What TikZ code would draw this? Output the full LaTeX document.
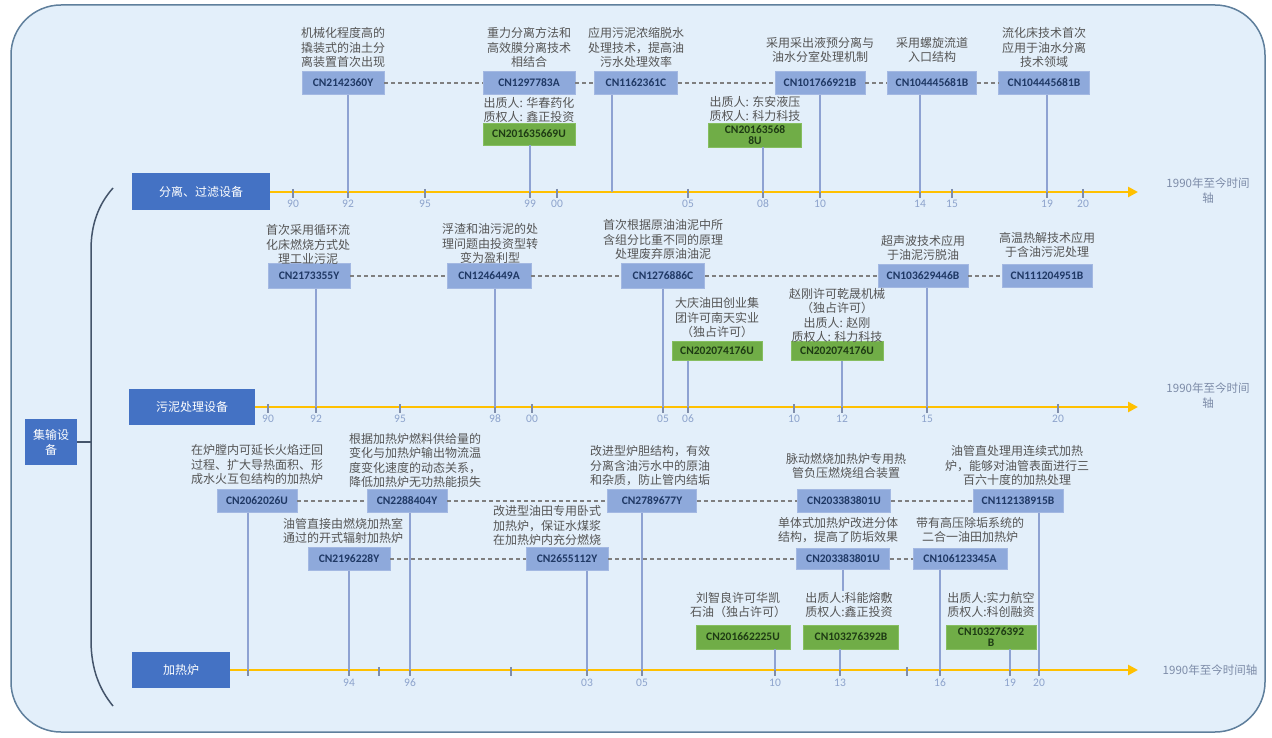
\documentclass[tikz,border=0pt]{standalone}
\usepackage{fontspec}
\setmainfont{Carlito}
\newfontfamily\cjk{Noto Sans CJK SC}
\usetikzlibrary{arrows.meta}
\definecolor{bgc}{HTML}{E3EFFA}
\definecolor{framec}{HTML}{5F7F9C}
\definecolor{catblue}{HTML}{4472C4}
\definecolor{patblue}{HTML}{8EA9DB}
\definecolor{patedge}{HTML}{A3B8E2}
\definecolor{patdark}{HTML}{1F3864}
\definecolor{grnfill}{HTML}{70AD47}
\definecolor{grnedge}{HTML}{86BE60}
\definecolor{grndark}{HTML}{1E3B14}
\definecolor{desctext}{HTML}{555555}
\definecolor{yrc}{HTML}{8DA3CC}
\definecolor{tickc}{HTML}{7F8DAA}
\definecolor{vlc}{HTML}{8EA2D2}
\definecolor{dashc}{HTML}{7F7F7F}
\definecolor{axc}{HTML}{FFC000}
\definecolor{axlabc}{HTML}{7D8CA8}
\definecolor{bracec}{HTML}{44546A}
\begin{document}
\begin{tikzpicture}[x=1pt,y=-1pt,
  cat/.style={fill=catblue, text=white, font=\fontsize{12}{15}\selectfont\cjk, inner sep=0pt, align=center},
  pat/.style={fill=patblue, draw=patedge, line width=0.6pt, text=patdark, font=\fontsize{11.5}{12}\selectfont\bfseries, inner sep=0pt, minimum height=23pt},
  grn/.style={fill=grnfill, draw=grnedge, line width=0.6pt, text=grndark, font=\fontsize{11.5}{11.5}\selectfont\bfseries, inner sep=0pt, minimum height=22pt, align=center},
  desc/.style={font=\fontsize{12}{14.5}\selectfont\cjk, text=desctext, align=center, anchor=south, inner sep=1pt},
  yr/.style={font=\fontsize{11.5}{12}\selectfont, text=yrc, inner sep=0pt},
  tk/.style={draw=tickc, line width=1.2pt},
  vline/.style={draw=vlc, line width=2pt},
  dline/.style={draw=dashc, line width=1.2pt, dash pattern=on 4pt off 3pt},
  axisline/.style={draw=axc, line width=2.5pt, -{Triangle[length=10pt,width=10pt]}},
  axlab/.style={font=\fontsize{11.5}{15}\selectfont\cjk, text=axlabc, align=center}
]
\useasboundingbox (0,0) rectangle (1272,738);
\fill[white] (0,0) rectangle (1272,738);
\draw[fill=bgc, draw=framec, line width=1.5pt, rounded corners=50pt] (11,5) rectangle (1265,732);

% ---------- root and brace ----------
\node[cat, minimum width=52pt, minimum height=46pt, text width=40pt] (root) at (51,442) {集输设\\备};
\coordinate (bt) at (113,188);
\coordinate (bb) at (113,706);
\coordinate (bm) at (91,442);
\draw[draw=bracec, line width=1.5pt] (bt) .. controls (98,205) and (91,225) .. (91,250) -- (91,640) .. controls (91,670) and (100,690) .. (bb);
\draw[draw=bracec, line width=1.5pt] (root.east) -- (bm);

% ---------- categories ----------
\node[cat, minimum width=138pt, minimum height=37pt] (c1) at (201,192) {分离、过滤设备};
\node[cat, minimum width=126pt, minimum height=36pt] (c2) at (192,407) {污泥处理设备};
\node[cat, minimum width=98pt, minimum height=36pt] (c3) at (181,670) {加热炉};

% ---------- axes ----------
\coordinate (e1) at (1138,192);
\coordinate (e2) at (1138,407);
\coordinate (e3) at (1138,670);
\draw[axisline] (c1.east) -- (e1);
\draw[axisline] (c2.east) -- (e2);
\draw[axisline] (c3.east) -- (e3);
\node[axlab] (al1) at (1208,191) {1990年至今时间\\轴};
\node[axlab] (al2) at (1208,396) {1990年至今时间\\轴};
\node[axlab] (al3) at (1210,670) {1990年至今时间轴};

% ticks top
\foreach \x/\l in {293/90,348/92,425/95,530/99,557/00,688/05,763/08,820/10,920/14,952/15,1047/19,1083/20}{
  \coordinate (ta-\l) at (\x,192);
  \draw[tk] (\x,189) -- (\x,198);
  \node[yr] (la-\l) at (\x,204) {\l};
}
\coordinate (ta-x) at (612,192);
% ticks middle
\foreach \x/\l in {268/90,316/92,400/95,495/98,532/00,663/05,688/06,794/10,842/12,927/15,1058/20}{
  \coordinate (tb-\l) at (\x,407);
  \draw[tk] (\x,404) -- (\x,413);
  \node[yr] (lb-\l) at (\x,419) {\l};
}
% ticks bottom
\foreach \x/\l in {349/94,410/96,587/03,642/05,775/10,840/13,940/16,1010/19,1039/20}{
  \coordinate (tc-\l) at (\x,670);
  \draw[tk] (\x,667) -- (\x,676);
  \node[yr] (lc-\l) at (\x,683) {\l};
}
\foreach \x/\n in {248/a,379/b,511/c,907/d}{
  \coordinate (tc-\n) at (\x,670);
  \draw[tk] (\x,667) -- (\x,676);
}

% ---------- top row ----------
\node[pat, minimum width=82pt] (p11) at (343,83) {CN2142360Y};
\node[pat, minimum width=92pt] (p12) at (529,83) {CN1297783A};
\node[pat, minimum width=83pt] (p13) at (636,83) {CN1162361C};
\node[pat, minimum width=90pt] (p14) at (820,83) {CN101766921B};
\node[pat, minimum width=89pt] (p15) at (932,83) {CN104445681B};
\node[pat, minimum width=91pt] (p16) at (1044,83) {CN104445681B};
\node[grn, minimum width=92pt] (g11) at (529,134) {CN201635669U};
\node[grn, minimum width=93pt, minimum height=24pt] (g12) at (755,135) {CN20163568\\8U};

\node[desc] (d11) at (343,69) {机械化程度高的\\撬装式的油土分\\离装置首次出现};
\node[desc] (d12) at (529,69) {重力分离方法和\\高效膜分离技术\\相结合};
\node[desc] (d13) at (636,69) {应用污泥浓缩脱水\\处理技术，提高油\\污水处理效率};
\node[desc] (d14) at (820,64) {采用采出液预分离与\\油水分室处理机制};
\node[desc] (d15) at (932,64) {采用螺旋流道\\入口结构};
\node[desc] (d16) at (1044,69) {流化床技术首次\\应用于油水分离\\技术领域};
\node[desc] (o11) at (529,124) {出质人: 华春药化\\质权人: 鑫正投资};
\node[desc] (o12) at (755,123) {出质人: 东安液压\\质权人: 科力科技};

\draw[dline] (p11.east) -- (p12.west);
\draw[dline] (p12.east) -- (p13.west);
\draw[dline] (p13.east) -- (p14.west);
\draw[dline] (p14.east) -- (p15.west);
\draw[dline] (p15.east) -- (p16.west);

\draw[vline] (p11.south -| ta-92) -- (ta-92);
\draw[vline] (g11.south -| ta-99) -- (ta-99);
\draw[vline] (p13.south -| ta-x) -- (ta-x);
\draw[vline] (g12.south -| ta-08) -- (ta-08);
\draw[vline] (p14.south -| ta-10) -- (ta-10);
\draw[vline] (p15.south -| ta-14) -- (ta-14);
\draw[vline] (p16.south -| ta-19) -- (ta-19);

% ---------- middle row ----------
\node[pat, minimum width=82pt, minimum height=25pt] (q1) at (309,276) {CN2173355Y};
\node[pat, minimum width=84pt, minimum height=25pt] (q2) at (489,276) {CN1246449A};
\node[pat, minimum width=83pt, minimum height=25pt] (q3) at (663,276) {CN1276886C};
\node[pat, minimum width=90pt] (q4) at (923,276) {CN103629446B};
\node[pat, minimum width=90pt] (q5) at (1047,276) {CN111204951B};
\node[grn, minimum width=90pt, minimum height=19pt] (h1) at (717,351) {CN202074176U};
\node[grn, minimum width=92pt, minimum height=19pt] (h2) at (837,351) {CN202074176U};

\node[desc] (m1) at (308,266) {首次采用循环流\\化床燃烧方式处\\理工业污泥};
\node[desc] (m2) at (490,265) {浮渣和油污泥的处\\理问题由投资型转\\变为盈利型};
\node[desc] (m3) at (663,261) {首次根据原油油泥中所\\含组分比重不同的原理\\处理废弃原油油泥};
\node[desc] (m4) at (923,262) {超声波技术应用\\于油泥污脱油};
\node[desc] (m5) at (1047,259) {高温热解技术应用\\于含油污泥处理};
\node[desc] (f1) at (717,339) {大庆油田创业集\\团许可南天实业\\（独占许可）};
\node[desc] (f2) at (837,344) {赵刚许可乾晟机械\\（独占许可）\\出质人: 赵刚\\质权人: 科力科技};

\draw[dline] (q1.east) -- (q2.west);
\draw[dline] (q2.east) -- (q3.west);
\draw[dline] (q3.east) -- (q4.west);
\draw[dline] (q4.east) -- (q5.west);

\draw[vline] (q1.south -| tb-92) -- (tb-92);
\draw[vline] (q2.south -| tb-98) -- (tb-98);
\draw[vline] (q3.south -| tb-05) -- (tb-05);
\draw[vline] (h1.south -| tb-06) -- (tb-06);
\draw[vline] (h2.south -| tb-12) -- (tb-12);
\draw[vline] (q4.south -| tb-15) -- (tb-15);

% ---------- bottom row ----------
\node[pat, minimum width=80pt] (r1) at (257,501) {CN2062026U};
\node[pat, minimum width=80pt] (r2) at (407,501) {CN2288404Y};
\node[pat, minimum width=89pt] (r3) at (652,501) {CN2789677Y};
\node[pat, minimum width=93pt] (r4) at (844,501) {CN203383801U};
\node[pat, minimum width=90pt] (r5) at (1018,501) {CN112138915B};
\node[pat, minimum width=82pt] (s1) at (349,559) {CN2196228Y};
\node[pat, minimum width=82pt] (s2) at (567,559) {CN2655112Y};
\node[pat, minimum width=93pt, minimum height=21pt] (s3) at (843,559) {CN203383801U};
\node[pat, minimum width=94pt, minimum height=21pt] (s4) at (960,559) {CN106123345A};
\node[grn, minimum width=94pt, minimum height=24pt] (k1) at (743,637) {CN201662225U};
\node[grn, minimum width=95pt, minimum height=24pt] (k2) at (851,637) {CN103276392B};
\node[grn, minimum width=90pt, minimum height=24pt] (k3) at (991,637) {CN103276392\\B};

\node[desc] (u1) at (257,486) {在炉膛内可延长火焰迂回\\过程、扩大导热面积、形\\成水火互包结构的加热炉};
\node[desc] (u2) at (415,489) {根据加热炉燃料供给量的\\变化与加热炉输出物流温\\度变化速度的动态关系，\\降低加热炉无功热能损失};
\node[desc] (u3) at (650,487) {改进型炉胆结构，有效\\分离含油污水中的原油\\和杂质，防止管内结垢};
\node[desc] (u4) at (846,480) {脉动燃烧加热炉专用热\\管负压燃烧组合装置};
\node[desc] (u5) at (1017,487) {油管直处理用连续式加热\\炉，能够对油管表面进行三\\百六十度的加热处理};
\node[desc] (v1) at (343,545) {油管直接由燃烧加热室\\通过的开式辐射加热炉};
\node[desc] (v2) at (547,547) {改进型油田专用卧式\\加热炉，保证水煤浆\\在加热炉内充分燃烧};
\node[desc] (v3) at (838,544) {单体式加热炉改进分体\\结构，提高了防垢效果};
\node[desc] (v4) at (970,544) {带有高压除垢系统的\\二合一油田加热炉};
\node[desc] (w1) at (738,619) {刘智良许可华凯\\石油（独占许可）};
\node[desc] (w2) at (849,619) {出质人:科能熔敷\\质权人:鑫正投资};
\node[desc] (w3) at (991,619) {出质人:实力航空\\质权人:科创融资};

\draw[dline] (r1.east) -- (r2.west);
\draw[dline] (r2.east) -- (r3.west);
\draw[dline] (r3.east) -- (r4.west);
\draw[dline] (r4.east) -- (r5.west);
\draw[dline] (s1.east) -- (s2.west);
\draw[dline] (s2.east) -- (s3.west);
\draw[dline] (s3.east) -- (s4.west);

\draw[vline] (r1.south -| tc-a) -- (tc-a);
\draw[vline] (s1.south -| tc-94) -- (tc-94);
\draw[vline] (r2.south -| tc-96) -- (tc-96);
\draw[vline] (s2.south -| tc-03) -- (tc-03);
\draw[vline] (r3.south -| tc-05) -- (tc-05);
\draw[vline] (k1.south -| tc-10) -- (tc-10);
\draw[vline] (k2.south -| tc-13) -- (tc-13);
\draw[vline] (s4.south -| tc-16) -- (tc-16);
\draw[vline] (k3.south -| tc-19) -- (tc-19);
\draw[vline] (r5.south -| tc-20) -- (tc-20);
\draw[vline] (s3.south) -- (s3.south |- w2.north);
\end{tikzpicture}
\end{document}
